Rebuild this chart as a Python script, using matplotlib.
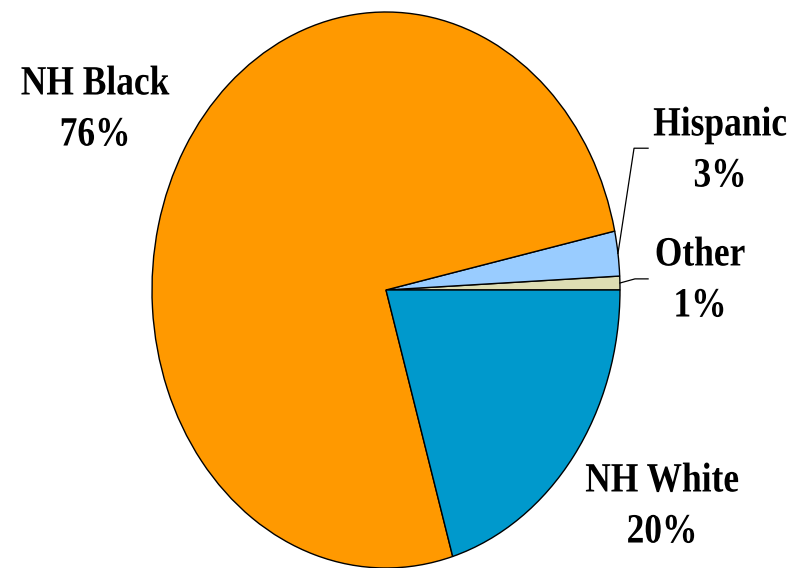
import numpy as np
import matplotlib
matplotlib.use('Agg')
import matplotlib.pyplot as plt
from matplotlib import patheffects
from matplotlib.transforms import Affine2D

# slices, counter-clockwise from 3 o'clock
groups = ['Other', 'Hispanic', 'NH Black', 'NH White']
shares = [0.8, 2.6, 76.2, 20.4]
pct_labels = ['1%', '3%', '76%', '20%']
colors = ['#DDDDB3', '#99CCFF', '#FF9900', '#0099CC']

W, H = 803, 568


class Squeeze(patheffects.AbstractPathEffect):
  '''
  Narrow the glyphs horizontally about x = cx (display pixels).
  '''
  def __init__(self, sx, cx):
    super().__init__()
    self.sx = sx
    self.cx = cx

  def draw_path(self, renderer, gc, tpath, affine, rgbFace=None):
    t = affine + Affine2D().translate(-self.cx, 0).scale(self.sx, 1).translate(self.cx, 0)
    renderer.draw_path(gc, tpath, t, rgbFace)


fig = plt.figure(figsize=(W / 100, H / 100), dpi=100)
# pie centre (386, 290) px from top, radii 234 x 278 px
cx, cy, rx, ry = 386, 290, 234, 278
ax = fig.add_axes([(cx - rx) / W, (H - cy - ry) / H, 2 * rx / W, 2 * ry / H])
wedges, _ = ax.pie(shares, colors=colors, startangle=0, counterclock=True,
                   wedgeprops=dict(edgecolor='black', linewidth=1))
ax.set_aspect('auto')
ax.set_xlim(-1, 1)
ax.set_ylim(-1, 1)
ax.axis('off')

# leader lines for the two thin slices
elbows = {'Hispanic': (1.06, 0.51), 'Other': (1.064, 0.04)}
for w, g in zip(wedges, groups):
  if g in elbows:
    mid = np.deg2rad((w.theta1 + w.theta2) / 2)
    ex, ey = elbows[g]
    ax.plot([np.cos(mid), ex, 1.12], [np.sin(mid), ey, ey],
            color='black', linewidth=0.9, clip_on=False)

# label block centres in pixels from top-left
label_pos = {'NH Black': (95, 110), 'Hispanic': (720, 151),
             'Other': (700, 281), 'NH White': (662, 507)}
for g, p in zip(groups, pct_labels):
  x, y = label_pos[g]
  fig.text(x / W, 1 - y / H, g + '\n' + p, ha='center', va='center',
           multialignment='center', linespacing=1.45,
           family='Liberation Serif', fontweight='bold', fontsize=30,
           path_effects=[Squeeze(0.85, x)])

fig.savefig('out.png', dpi=100)
